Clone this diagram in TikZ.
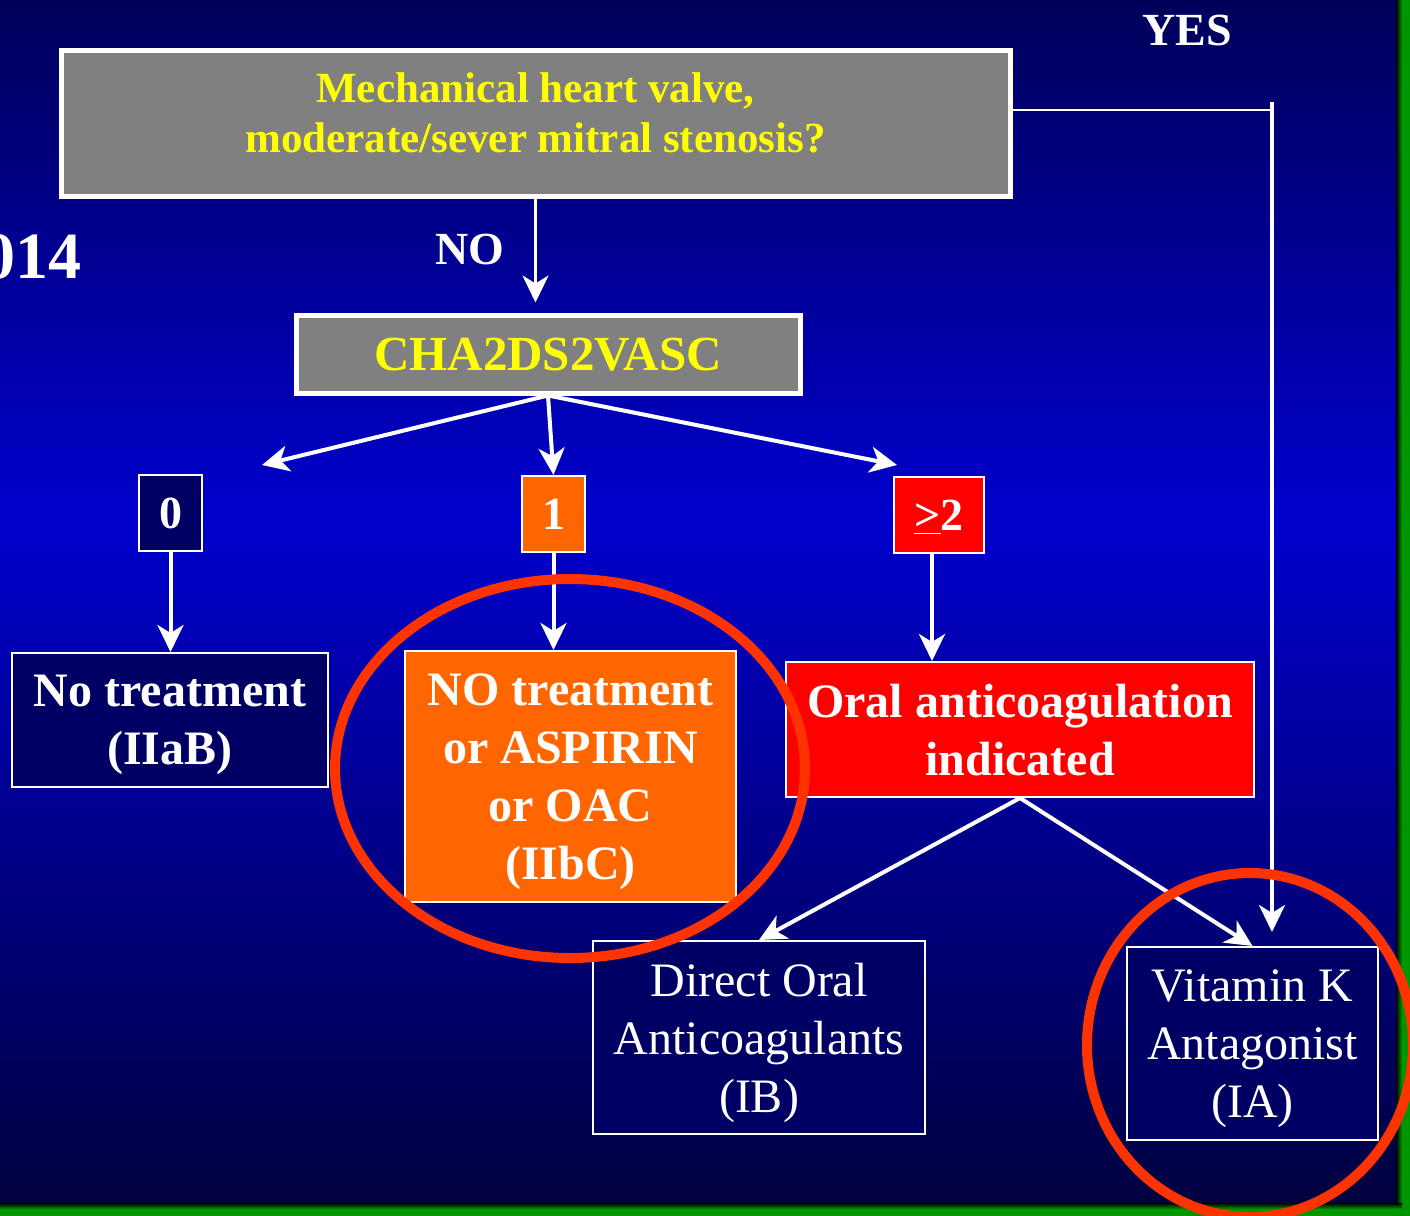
\documentclass[tikz,border=0pt]{standalone}
\usepackage{fontspec}
\setmainfont{Liberation Serif}
\usetikzlibrary{arrows.meta}
\definecolor{bgtop}{RGB}{0,0,90}
\definecolor{bgmid}{RGB}{0,0,205}
\definecolor{bgbot}{RGB}{0,0,60}
\definecolor{boxgray}{RGB}{128,128,128}
\definecolor{txtyellow}{RGB}{255,255,0}
\definecolor{navybox}{RGB}{0,0,100}
\definecolor{orangebox}{RGB}{255,102,0}
\definecolor{redbox}{RGB}{255,0,0}
\definecolor{ringred}{RGB}{255,51,0}
\definecolor{slidegreen}{RGB}{0,150,0}
\tikzset{box/.style={draw=white, line width=1pt, inner sep=0pt, align=center, text=white, text depth=0pt, font=\bfseries\fontsize{24}{29}\selectfont}}
\tikzset{graybox/.style={box, fill=boxgray, line width=2.5pt, text=txtyellow}}
\tikzset{scorebox/.style={box, minimum width=31.5pt, minimum height=38pt, font=\bfseries\fontsize{23}{29}\selectfont}}
\tikzset{plainbox/.style={box, fill=navybox, font=\fontsize{24}{29}\selectfont}}
\tikzset{flow/.style={white, line width=2pt, -{Stealth[length=13.5pt, width=13pt, inset=4pt]}}}
\tikzset{ring/.style={ringred, line width=5pt}}

\begin{document}
\begin{tikzpicture}[x=0.5pt, y=-0.5pt]
    \useasboundingbox (0,0) rectangle (1410,1216);
    % Background
    \shade[top color=bgtop, bottom color=bgmid] (0,0) rectangle (1410,520);
    \shade[top color=bgmid, bottom color=bgbot] (0,520) rectangle (1410,1216);
    % Slide edge
    \fill[slidegreen] (1401,0) rectangle (1410,1216);
    \fill[slidegreen] (0,1208) rectangle (1410,1216);
    \shade[left color=black, right color=slidegreen] (1396,0) rectangle (1402,1208);
    \shade[top color=black, bottom color=slidegreen] (0,1203) rectangle (1402,1209);
    % Year, cut at the left
    \node[anchor=base east, inner sep=0pt, text=white, font=\bfseries\fontsize{33}{33}\selectfont] (year) at (82,278) {014};
    % Question
    \node[graybox, minimum width=474.5pt, minimum height=73pt] (mech) at (535.5,123) {};
    \node[align=center, inner sep=0pt, text=txtyellow, font=\bfseries\fontsize{21.5}{25}\selectfont] (mechtext) at (535.5,113) {Mechanical heart valve,\\moderate/sever mitral stenosis?};
    \node[anchor=base, inner sep=0pt, text=white, font=\bfseries\fontsize{23}{29}\selectfont] (yes) at (1187,45) {YES};
    \node[anchor=base, inner sep=0pt, text=white, font=\bfseries\fontsize{23}{29}\selectfont] (no) at (470,264) {NO};
    % Score
    \node[graybox, minimum width=252pt, minimum height=39pt, font=\bfseries\fontsize{24.5}{29}\selectfont] (cha) at (548,354) {CHA2DS2VASC};
    \node[scorebox, fill=navybox] (s0) at (170.5,513) {0};
    \node[scorebox, fill=orangebox] (s1) at (553.5,514) {1};
    \node[scorebox, fill=redbox, minimum width=45pt] (s2) at (939,515) {\underline{>}2};
    % Outcomes
    \node[box, fill=navybox, minimum width=158pt, minimum height=67pt] (notreat) at (170,720) {No treatment\\(IIaB)};
    \node[box, fill=orangebox, minimum width=165.5pt, minimum height=125.5pt] (aspirin) at (570.5,776.5) {NO treatment\\or ASPIRIN\\or OAC\\(IIbC)};
    \node[box, fill=redbox, minimum width=234pt, minimum height=67.5pt] (oac) at (1020,729.5) {Oral anticoagulation\\indicated};
    \node[plainbox, minimum width=166pt, minimum height=96.5pt] (doac) at (759,1037.5) {Direct Oral\\Anticoagulants\\(IB)};
    \node[plainbox, minimum width=125.5pt, minimum height=96.5pt] (vka) at (1252.5,1043.5) {Vitamin K\\Antagonist\\(IA)};
    % Free ends
    \coordinate (yescorner) at (1272,110);
    \coordinate (yestip) at (1272,932);
    \coordinate (to0) at (262,465);
    \coordinate (to2) at (897,465);
    % Connectors
    \draw[white, line width=1pt] (mech.east |- yescorner) -- (yescorner);
    \draw[flow] ([yshift=4pt]yescorner) -- (yestip);
    \draw[flow, line width=1.6pt, shorten >=5pt] (mech.south) -- (mech.south |- cha.north);
    \draw[flow] (cha.south) -- (to0);
    \draw[flow] (cha.south) -- (s1.north);
    \draw[flow] (cha.south) -- (to2);
    \draw[flow] (s0.south) -- (s0.south |- notreat.north);
    \draw[flow] (s1.south) -- (s1.south |- aspirin.north);
    \draw[flow] ([xshift=-3.5pt]s2.south) -- ([xshift=-3.5pt]s2.south |- oac.north);
    \draw[flow] (oac.south) -- (doac.north);
    \draw[flow] (oac.south) -- (vka.north);
    % Rings
    \draw[ring] (570,768.5) ellipse [x radius=235, y radius=189.5];
    \draw[ring] (1250,1045) ellipse [x radius=163, y radius=172];
\end{tikzpicture}
\end{document}
